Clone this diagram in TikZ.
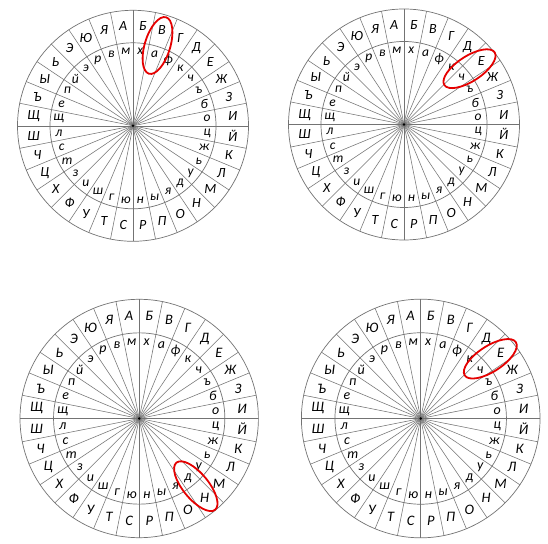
\documentclass[tikz,border=0pt]{standalone}
\usepackage{fontspec}
\setmainfont{Carlito}
\usetikzlibrary{shapes.geometric}
\tikzset{
  ring/.style={draw=black!55, line width=0.7pt},
  spoke/.style={draw=black!55, line width=0.55pt},
  hub/.style={fill=black, circle, inner sep=0pt, minimum size=2.8pt},
  redoval/.style={draw=red!90!black, line width=1.8pt, ellipse, inner sep=0pt},
  letter/.style={inner sep=0pt},
}
\newcommand\drawwheel[4]{%
  \begin{scope}[shift={(#2,#3)}]
    \pgfmathsetmacro\ws{#4}
    \pgfmathsetmacro\fsout{14*#4}
    \pgfmathsetmacro\fsin{13.5*#4}
    \foreach \k in {0,...,15}{\draw[spoke] ({\k*11.25}:{115.5*\ws}) -- ({\k*11.25+180}:{115.5*\ws});}
    \draw[ring] (0,0) circle ({115.5*\ws});
    \draw[ring] (0,0) circle ({83*\ws});
    \node[hub] (#1hub) at (0,0) {};
    \foreach \l [count=\i] in {А,Б,В,Г,Д,Е,Ж,З,И,Й,К,Л,М,Н,О,П,Р,С,Т,У,Ф,Х,Ц,Ч,Ш,Щ,Ъ,Ы,Ь,Э,Ю,Я}{
      \node[letter, font=\itshape\fontsize{\fsout}{\fsout}\selectfont] (#1O\i) at ({95.625-(\i-1)*11.25}:{100*\ws}) {\l};
    }
    \foreach \l [count=\i] in {м,х,а,ф,к,ч,ъ,б,о,ц,ж,ь,у,д,я,ы,н,ю,г,ш,и,з,т,с,л,щ,е,п,й,э,р,в}{
      \node[letter, font=\itshape\fontsize{\fsin}{\fsin}\selectfont] (#1I\i) at ({95.625-(\i-1)*11.25}:{74.5*\ws}) {\l};
    }
  \end{scope}
}
\begin{document}
\begin{tikzpicture}[x=1pt,y=1pt]
  \useasboundingbox (0,0) rectangle (548,543);
  \fill[white] (0,0) rectangle (548,543);
  \drawwheel{a}{133}{417.2}{1}
  \drawwheel{b}{404}{418.5}{1}
  \drawwheel{c}{139.2}{124.5}{1.032}
  \drawwheel{d}{420.7}{124.5}{1.033}
  \node[redoval, minimum width=59pt, minimum height=25.5pt, rotate=73.1] (ova) at (157.5,497.5) {};
  \node[redoval, minimum width=60pt, minimum height=25pt, rotate=33] (ovb) at (469.5,474.3) {};
  \node[redoval, minimum width=61pt, minimum height=25.5pt, rotate=-50.6] (ovc) at (195.8,56.8) {};
  \node[redoval, minimum width=61pt, minimum height=25.5pt, rotate=33] (ovd) at (490.3,184.2) {};
\end{tikzpicture}
\end{document}
